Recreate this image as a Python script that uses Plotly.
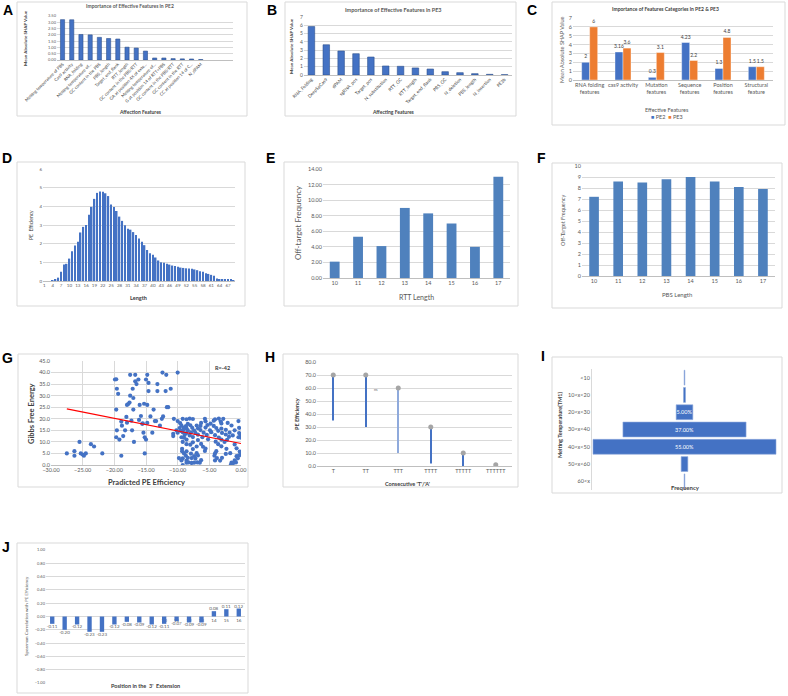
import plotly.graph_objects as go

W, H = 788, 696
FONT = "Lato"
GRID = "#D9D9D9"
AXL = "#BFBFBF"
TXT = "#595959"
DARK = "#404040"
BLUE = "#4472C4"
BLUE2 = "#4F81BD"
ORANGE = "#ED7D31"

# ---------------- data ----------------
pe2_features = ["Melting temperature of PBS", "Cas9 activity", "RNA_folding",
                "Melting temperature of...", "GC content in the PBS", "PBS_length",
                "Target_end_flank", "RTT_length", "GC content in the PBS/RTT",
                "GA at position 4X of exte...", "Melting temperature of...",
                "G at position 14 of RTT+PBS", "GC content in the PBS/RTT",
                "GC content in the RTT", "CC at position 14 of C...", "N_dPAM"]
pe2_shap = [3.21, 3.20, 2.03, 2.00, 1.80, 1.71, 1.67, 1.02, 0.95, 0.71,
            0.16, 0.16, 0.11, 0.09, 0.08, 0.04]

pe3_features = ["RNA_Folding", "DeepSpCas9", "dPAM", "sgRNA_pos", "Target_pos",
                "N_substitution", "RTT_GC", "RTT_length", "Target_end_flank",
                "PBS_GC", "N_deletion", "PBS_length", "N_insertion", "PE3b"]
pe3_shap = [5.85, 3.65, 2.90, 2.57, 2.17, 1.09, 1.05, 0.85, 0.72, 0.40,
            0.28, 0.16, 0.08, 0.04]

cat_names = ["RNA folding<br>features", "cas9 activity", "Mutation<br>features",
             "Sequence<br>features", "Position<br>features", "Structural<br>feature"]
cat_pe2 = [2, 3.16, 0.3, 4.23, 1.3, 1.5]
cat_pe3 = [6, 3.6, 3.1, 2.2, 4.8, 1.5]

len_vals = list(range(1, 70))
len_eff = [0, 0, 0, 0.02, 0.08, 0.18, 0.5, 0.88, 0.92, 1.2,
           1.6, 1.9, 2.1, 2.6, 2.9, 3.0, 3.55, 3.97, 4.4, 4.72,
           4.8, 4.78, 4.7, 4.55, 4.1, 3.97, 3.75, 3.45, 3.22, 2.98,
           2.8, 2.75, 2.62, 2.47, 2.28, 2.1, 1.92, 1.66, 1.48, 1.4,
           1.26, 1.1, 1.0, 0.98, 0.92, 0.88, 0.83, 0.8, 0.76, 0.72,
           0.7, 0.68, 0.67, 0.66, 0.62, 0.58, 0.52, 0.5, 0.42, 0.38,
           0.33, 0.28, 0.14, 0.1, 0.08, 0.07, 0.06, 0.06, 0.05]

rtt_len = [10, 11, 12, 13, 14, 15, 16, 17]
rtt_off = [2.1, 5.3, 4.1, 9.0, 8.3, 7.0, 4.0, 13.0]

pbs_len = [10, 11, 12, 13, 14, 15, 16, 17]
pbs_off = [7.2, 8.6, 8.5, 8.8, 9.0, 8.6, 8.1, 7.9]

g_points = [
    (-27.5, 5.0), (-26.3, 6.0), (-26.3, 4.0), (-25.5, 10.0), (-25.3, 5.0), (-25.0, 4.5),
    (-24.8, 4.0), (-24.5, 5.0), (-23.7, 9.0), (-23.2, 8.0), (-21.9, 5.0),
    (-19.9, 37.0), (-19.7, 37.1), (-19.6, 33.0), (-19.4, 30.8), (-19.7, 24.0), (-19.6, 15.0),
    (-19.7, 12.0), (-19.2, 11.0), (-18.9, 18.8), (-18.8, 17.0), (-18.6, 12.5), (-18.9, 4.0),
    (-18.3, 15.0), (-18.1, 20.8), (-18.0, 18.3), (-18.0, 26.0), (-17.8, 26.4), (-17.6, 27.0),
    (-17.5, 39.0), (-17.5, 30.0), (-17.3, 19.2), (-17.2, 15.0), (-17.1, 33.0), (-17.0, 29.0),
    (-17.0, 24.0), (-16.9, 10.0), (-16.7, 39.0), (-16.7, 36.2), (-16.5, 35.0), (-16.2, 37.0),
    (-16.1, 19.5), (-16.0, 26.0), (-15.8, 21.2), (-15.6, 17.8), (-15.3, 26.5), (-15.0, 37.0),
    (-14.8, 26.0), (-15.5, 18.0), (-15.4, 14.0), (-15.2, 12.0), (-15.0, 11.0), (-15.2, 5.0),
    (-14.8, 18.2), (-14.8, 39.0), (-14.6, 35.5), (-14.6, 32.0), (-14.3, 21.0), (-14.0, 14.0),
    (-13.8, 24.0), (-13.6, 19.0), (-13.4, 19.0), (-13.2, 35.0), (-13.2, 32.0), (-12.8, 17.0),
    (-12.5, 20.0), (-12.3, 21.0), (-12.4, 40.0), (-11.9, 32.0), (-11.8, 39.0), (-11.7, 25.0),
    (-11.5, 25.0), (-11.1, 33.0), (-10.7, 12.5), (-10.7, 13.5), (-10.6, 20.0), (-10.0, 40.0),
    (-9.2, 20.0), (-8.6, 19.8), (-8.1, 20.1), (-7.6, 19.9), (-5.7, 20.0), (-4.1, 19.7),
    (-3.5, 20.1), (-2.8, 20.0),
    (-10.0, 19.0), (-5.6, 18.9), (-4.3, 19.2), (-3.2, 18.8), (-0.4, 19.0),
    (-9.6, 18.1), (-8.4, 17.8), (-6.3, 18.2), (-4.8, 17.9), (-3.1, 18.0), (-2.1, 18.2),
    (-9.4, 17.0), (-8.7, 16.8), (-8.0, 17.2), (-7.0, 17.1), (-6.4, 16.9), (-5.3, 17.3),
    (-4.3, 16.9), (-1.5, 17.1),
    (-9.7, 16.0), (-9.0, 16.2), (-8.6, 15.8), (-7.7, 16.1), (-6.8, 15.9), (-5.6, 16.2),
    (-3.9, 16.0), (-3.1, 15.8), (-0.3, 16.1),
    (-10.2, 15.0), (-9.5, 14.8), (-9.1, 15.2), (-8.4, 15.0), (-7.4, 14.9), (-6.4, 15.1),
    (-4.9, 15.0), (-3.6, 14.8), (-2.4, 15.2), (-1.0, 15.0),
    (-10.0, 14.0), (-9.2, 14.2), (-8.6, 13.8), (-7.9, 14.1), (-7.2, 13.9), (-5.9, 14.0),
    (-4.7, 14.2), (-3.0, 13.9), (-1.8, 14.0), (-0.3, 13.8),
    (-8.9, 13.0), (-8.1, 12.8), (-6.8, 13.1), (-5.4, 13.0), (-4.1, 12.9), (-2.4, 13.2),
    (-1.3, 12.8), (-0.1, 13.0),
    (-9.4, 12.0), (-9.0, 11.8), (-7.6, 12.1), (-6.1, 12.0), (-3.5, 11.9), (-1.9, 12.2),
    (-0.4, 12.0), (0.0, 11.8),
    (-8.6, 11.0), (-6.8, 10.8), (-5.2, 11.1), (-3.1, 11.0), (-2.2, 10.9),
    (-9.2, 10.0), (-7.6, 9.8), (-4.0, 10.1), (-2.6, 10.0),
    (-8.6, 9.0), (-8.0, 8.8), (-6.3, 9.1), (-3.6, 9.0), (-1.0, 8.9),
    (-7.0, 8.0), (-6.0, 7.9), (-3.1, 8.1),
    (-9.3, 7.0), (-7.6, 6.9), (-5.6, 7.1), (-2.3, 7.0), (-0.7, 7.2),
    (-9.3, 6.0), (-8.6, 5.9), (-5.7, 6.1), (-3.9, 6.0), (-0.2, 5.8),
    (-9.0, 5.0), (-7.9, 4.9), (-7.0, 5.1), (-4.1, 5.0), (-2.4, 4.8), (-1.7, 5.1), (0.0, 5.0),
    (-8.7, 4.0), (-7.4, 3.9), (-6.8, 4.1), (-4.2, 4.0), (-0.7, 3.8), (-0.3, 4.2),
    (-9.8, 3.0), (-9.2, 2.9), (-8.4, 3.1), (-7.8, 3.0), (-7.2, 2.8), (-3.8, 3.0),
    (-3.0, 3.1), (-0.5, 2.9),
    (-9.4, 2.0), (-8.6, 1.9), (-6.3, 2.1), (-4.1, 2.0), (-3.3, 1.9), (-1.0, 2.0),
    (-8.6, 1.0), (-8.3, 1.1), (-7.8, 0.9), (-7.4, 1.0), (-6.9, 1.1), (-6.5, 1.0),
    (-1.5, 1.0), (-1.2, 0.9), (-0.8, 1.1),
    (-9.2, 0.0), (-1.6, 0.1),
]
g_x = [p[0] for p in g_points]
g_y = [p[1] for p in g_points]
trend_x = [-27.5, 0.0]
trend_y = [24.3, 9.3]

h_cats = ["T", "TT", "TTT", "TTTT", "TTTTT", "TTTTTT"]
h_high = [70, 70, 60, 30, 10, 1]
h_low = [35, 30, 10, 2, 0, 1]

tm_bins = ["<10", "10<x<20", "20<x<30", "30<x<40", "40<x<50", "50<x<60", "60<x"]
tm_freq = [0.2, 0.6, 5.0, 37.0, 55.0, 2.0, 0.2]
tm_text = ["", "", "5.00%", "37.00%", "55.00%", "", ""]

j_pos = list(range(1, 17))
j_corr = [-0.11, -0.20, -0.12, -0.23, -0.23, -0.12, -0.08, -0.09,
          -0.12, -0.11, -0.07, -0.09, -0.09, 0.08, 0.11, 0.12]

# ---------------- helpers ----------------
def fx(p):
    return p / W

def fy(p):
    return 1 - p / H

def dx(a, b):
    return [fx(a), fx(b)]

def dy(top, bot):
    return [fy(bot), fy(top)]

def xax(dom, anchor, size=5, **kw):
    d = dict(domain=dom, anchor=anchor, showgrid=False, zeroline=False, showline=False,
             automargin=False, ticks="", tickfont=dict(size=size, color=TXT, family=FONT))
    d.update(kw)
    return d

def yax(dom, anchor, size=5, **kw):
    d = dict(domain=dom, anchor=anchor, showgrid=True, gridcolor=GRID, gridwidth=0.7,
             zeroline=True, zerolinecolor=AXL, zerolinewidth=0.8, showline=False,
             automargin=False, ticks="", tickfont=dict(size=size, color=TXT, family=FONT))
    d.update(kw)
    return d

fig = go.Figure()

# A
fig.add_trace(go.Bar(x=list(range(len(pe2_shap))), y=pe2_shap, width=0.45,
                     marker=dict(color=BLUE, line=dict(color="#2F528F", width=0.6)),
                     xaxis="x", yaxis="y"))
# B
fig.add_trace(go.Bar(x=list(range(len(pe3_shap))), y=pe3_shap, width=0.44,
                     marker=dict(color=BLUE, line=dict(color="#2F528F", width=0.6)),
                     xaxis="x2", yaxis="y2"))
# C
fig.add_trace(go.Bar(x=list(range(len(cat_pe2))), y=cat_pe2, width=0.24, offset=-0.24,
                     text=[str(v) for v in cat_pe2], textposition="outside", constraintext="none",
                     textfont=dict(size=5, color=DARK, family=FONT), cliponaxis=False,
                     marker=dict(color=BLUE, line=dict(color="white", width=0.4)),
                     xaxis="x3", yaxis="y3"))
fig.add_trace(go.Bar(x=list(range(len(cat_pe3))), y=cat_pe3, width=0.24, offset=0.0,
                     text=[str(v) for v in cat_pe3], textposition="outside", constraintext="none",
                     textfont=dict(size=5, color=DARK, family=FONT), cliponaxis=False,
                     marker=dict(color=ORANGE, line=dict(color="white", width=0.4)),
                     xaxis="x3", yaxis="y3"))
# D
fig.add_trace(go.Bar(x=len_vals, y=len_eff, width=0.55, marker=dict(color=BLUE, line=dict(width=0)),
                     xaxis="x4", yaxis="y4"))
# E
fig.add_trace(go.Bar(x=rtt_len, y=rtt_off, width=0.42, marker=dict(color=BLUE2, line=dict(width=0)),
                     xaxis="x5", yaxis="y5"))
# F
fig.add_trace(go.Bar(x=pbs_len, y=pbs_off, width=0.4, marker=dict(color=BLUE2, line=dict(width=0)),
                     xaxis="x6", yaxis="y6"))
# G
fig.add_trace(go.Scatter(x=g_x, y=g_y, mode="markers",
                         marker=dict(color=BLUE, size=4.2), xaxis="x7", yaxis="y7"))
fig.add_trace(go.Scatter(x=trend_x, y=trend_y, mode="lines",
                         line=dict(color="#FF0000", width=1.2), xaxis="x7", yaxis="y7"))
# H
fig.add_trace(go.Bar(x=list(range(len(h_cats))), y=[hi - lo for hi, lo in zip(h_high, h_low)],
                     base=h_low, width=0.045,
                     marker=dict(color=[BLUE, BLUE, "#8FAADC", BLUE, BLUE, BLUE], line=dict(width=0)),
                     xaxis="x8", yaxis="y8"))
fig.add_trace(go.Scatter(x=list(range(len(h_cats))), y=h_high, mode="markers",
                         marker=dict(color="#A5A5A5", size=5), xaxis="x8", yaxis="y8"))
# I
fig.add_trace(go.Funnel(y=tm_bins, x=tm_freq, text=tm_text, textinfo="text",
                        textposition="inside", insidetextanchor="middle", constraintext="none",
                        textfont=dict(size=5.5, color="white", family=FONT),
                        marker=dict(color=BLUE, line=dict(color="#8FAADC", width=0.6)),
                        connector=dict(visible=False), xaxis="x9", yaxis="y9"))
# J
fig.add_trace(go.Bar(x=j_pos, y=j_corr, width=0.35, text=["%.2f" % v for v in j_corr],
                     textposition="outside", constraintext="none",
                     textfont=dict(size=4.5, color=TXT, family=FONT),
                     cliponaxis=False, marker=dict(color=BLUE, line=dict(width=0)),
                     xaxis="x10", yaxis="y10"))

fig.update_traces(showlegend=False)

layout = dict(
    width=W, height=H, margin=dict(l=0, r=0, t=0, b=0, autoexpand=False),
    paper_bgcolor="white", plot_bgcolor="white",
    font=dict(family=FONT, color=TXT), funnelgap=0.14, showlegend=False,
)

# A axes
layout["xaxis"] = xax(dx(57, 233), "y", size=4.3, range=[-0.6, 18.5],
                      tickvals=list(range(len(pe2_features))), ticktext=pe2_features,
                      tickangle=-45, tickfont=dict(size=4.3, color=DARK, family=FONT))
layout["yaxis"] = yax(dy(16, 60), "x", size=4, range=[0, 3.5], dtick=0.5, tickformat=".2f")
# B axes
layout["xaxis2"] = xax(dx(304, 512), "y2", range=[-0.5, 13.5],
                       tickvals=list(range(len(pe3_features))), ticktext=pe3_features,
                       tickangle=-45, tickfont=dict(size=4.6, color=DARK, family=FONT))
layout["yaxis2"] = yax(dy(17, 75), "x2", size=5, range=[0, 7], dtick=1)
# C axes
layout["xaxis3"] = xax(dx(573, 773), "y3", size=5.5, range=[-0.5, 5.5], tickangle=0,
                       tickvals=list(range(len(cat_names))), ticktext=cat_names)
layout["yaxis3"] = yax(dy(18, 80), "x3", size=5.5, range=[0, 7], dtick=1)
# D axes
layout["xaxis4"] = xax(dx(43, 235), "y4", size=4.5, range=[0.5, 69.5], tickangle=0,
                       tickvals=len_vals[::3])
layout["yaxis4"] = yax(dy(169, 281), "x4", size=4.5, range=[0, 6], dtick=1)
# E axes
layout["xaxis5"] = xax(dx(323, 510), "y5", size=5.5, range=[9.5, 17.5], dtick=1)
layout["yaxis5"] = yax(dy(169, 278), "x5", size=5.5, range=[0, 14], dtick=2, tickformat=".2f")
# F axes
layout["xaxis6"] = xax(dx(582, 775), "y6", size=5.5, range=[9.5, 17.5], dtick=1)
layout["yaxis6"] = yax(dy(166, 276), "x6", size=5.5, range=[0, 10], dtick=1)
# G axes
layout["xaxis7"] = xax(dx(51, 241), "y7", size=5.5, range=[-30, 0], dtick=5, tickformat=".2f",
                       showgrid=True, gridcolor=GRID, gridwidth=0.7)
layout["yaxis7"] = yax(dy(361, 465), "x7", size=5.5, range=[0, 45], dtick=5, tickformat=".1f")
# H axes
layout["xaxis8"] = xax(dx(317, 512), "y8", size=5.5, range=[-0.5, 5.5], tickangle=0,
                       tickvals=list(range(len(h_cats))), ticktext=h_cats)
layout["yaxis8"] = yax(dy(362, 466), "x8", size=5.5, range=[0, 80], dtick=10, tickformat=".1f")
# I axes
layout["xaxis9"] = dict(domain=dx(592, 777), anchor="y9", range=[-27.8, 27.8], showgrid=False,
                        automargin=False, zeroline=False, showline=False, showticklabels=False,
                        ticks="")
layout["yaxis9"] = dict(domain=dy(369, 490), anchor="x9", autorange="reversed", showgrid=False,
                        automargin=False, zeroline=False, showline=True, linecolor=GRID,
                        linewidth=1, ticks="", tickfont=dict(size=5.5, color=TXT, family=FONT))
# J axes
zero_y = (550 + 683) / 2
layout["xaxis10"] = xax(dx(46, 245), "free", size=4.5, range=[0.5, 16.5], tickvals=j_pos,
                        tickangle=0, position=fy(zero_y), layer="below traces")
layout["yaxis10"] = yax(dy(550, 683), "x10", size=4, range=[-1, 1], dtick=0.2, tickformat=".2f",
                        zerolinecolor=GRID)

# boxes
boxes = [(17, 2, 247, 116), (285, 2, 516, 116), (552, 2, 785, 125),
         (17, 162, 245, 306), (284, 162, 518, 306), (552, 163, 782, 308),
         (18, 354, 248, 487), (283, 354, 518, 487), (552, 357, 782, 493),
         (17, 543, 248, 693)]
shapes = []
for (x0, y0, x1, y1) in boxes:
    shapes.append(dict(type="rect", xref="paper", yref="paper", x0=fx(x0), x1=fx(x1),
                       y0=fy(y1), y1=fy(y0), line=dict(color=GRID, width=1), layer="below"))
layout["shapes"] = shapes

ann = []

def note(text, x, y, size=5, color=TXT, bold=False, angle=0, family=FONT, **kw):
    t = "<b>%s</b>" % text if bold else text
    d = dict(text=t, x=fx(x), y=fy(y), xref="paper", yref="paper", showarrow=False,
             xanchor="center", yanchor="middle", textangle=angle,
             font=dict(size=size, color=color, family=family))
    d.update(kw)
    ann.append(d)

# panel letters
for letter, (x, y) in zip("ABCDEFGHIJ",
                          [(8, 10), (272, 10), (532, 10), (7, 158), (270, 158),
                           (541, 158), (7, 358), (270, 357), (543, 356), (6, 547)]):
    note(letter, x, y, size=14, color="black", bold=True, family="Liberation Sans")

# A
note("Importance of Effective Features in PE2", 130, 6, size=5, color=TXT, bold=True)
note("Mean Absolute SHAP Value", 25, 38, size=4.5, color=DARK, bold=True, angle=-90)
note("Affection Features", 140, 112, size=5, color=DARK, bold=True)
# B
note("Importance of Effective Features in PE3", 393, 10, size=5.5, color=TXT, bold=True)
note("Mean Absolute SHAP Value", 291, 46, size=4.5, color=DARK, bold=True, angle=-90)
note("Affecting Features", 393, 112, size=5, color=DARK, bold=True)
# C
note("Importance of Features Categories in PE2 &amp; PE3", 665, 9, size=5, color=DARK, bold=True)
note("Mean Absolute SHAP Value", 562, 50, size=5.5, color=TXT, angle=-90)
note("Effective Features", 667, 110, size=5.5, color=TXT)
note("<span style='color:%s'>■</span> PE2  <span style='color:%s'>■</span> PE3" % (BLUE, ORANGE),
     667, 117, size=5.5, color=TXT)
# D
note("PE  Efficiency", 31, 225, size=5, color=DARK, angle=-90)
note("Length", 138, 298, size=5.5, color=DARK, bold=True)
# E
note("Off-target Frequency", 298, 223, size=8, color=TXT, angle=-90)
note("RTT Length", 417, 297, size=7, color=TXT)
# F
note("Off-Target Frequency", 563, 221, size=5.5, color=TXT, angle=-90)
note("PBS Length", 677, 294, size=6, color=TXT)
# G
note("Gibbs Free Energy", 32, 413, size=7.5, color=DARK, bold=True, angle=-90)
note("Pradicted PE Efficiency", 146, 482, size=7.5, color=DARK, bold=True)
note("R=-42", 222, 368, size=5.5, color=DARK, bold=True)
# H
note("PE Efficiency", 297, 414, size=5.5, color=DARK, bold=True, angle=-90)
note("Consecutive 'T'/'A'", 407, 484, size=5.5, color=DARK, bold=True)
ann.append(dict(text="ns", x=1.3, y=58.5, xref="x8", yref="y8", showarrow=False,
                font=dict(size=3.5, color=TXT, family=FONT)))
# I
note("Melting Temperature(TM1)", 560, 425, size=5.5, color=DARK, bold=True, angle=-90)
note("Frequency", 685, 487, size=6, color=DARK, bold=True)
# J
note("Spearman Correlation with PE Efficiency", 26, 616, size=4.5, color=TXT, angle=-90)
note("Position in the  3'  Extension", 145, 686, size=5.5, color=DARK, bold=True)

layout["annotations"] = ann
fig.update_layout(**layout)

fig.write_html("out.html", config={"displayModeBar": False},
               post_script="document.body.style.margin='0';document.body.style.padding='0';")
